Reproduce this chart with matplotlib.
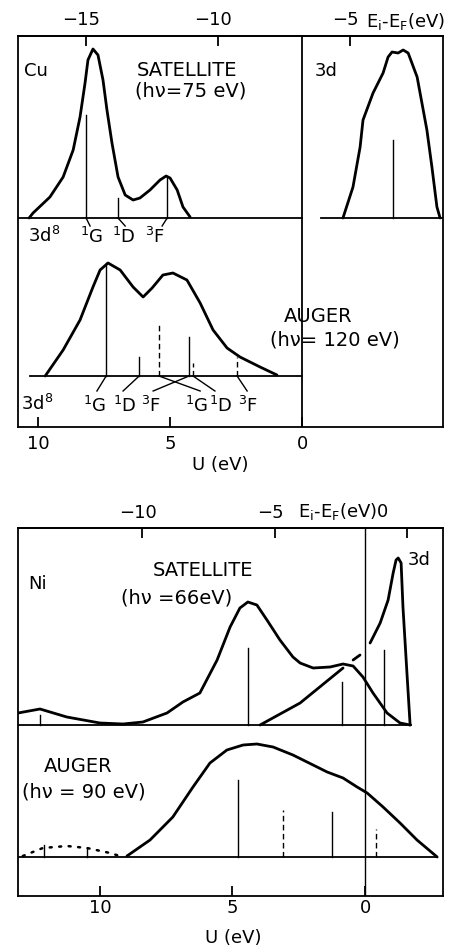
import matplotlib
matplotlib.use("Agg")
import matplotlib.pyplot as plt
from matplotlib.transforms import ScaledTranslation

# ---- Cu (top panel), x in U (eV), y = intensity above each baseline (arb.)
cu_sat_u = [10.34, 10.19, 9.55, 9.05, 8.67, 8.41, 8.22, 8.11, 7.92, 7.73, 7.54, 7.39,
            7.20, 6.97, 6.70, 6.40, 6.14, 5.76, 5.38, 5.15, 5.00, 4.73, 4.51, 4.24]
cu_sat_i = [0, 5, 21, 41, 68, 101, 135, 158, 169, 163, 138, 108,
            75, 41, 23, 18, 20, 28, 38, 42, 40, 28, 11, 1]
cu_sat_stick_u = [8.18, 6.97, 5.11]
cu_sat_stick_i = [103, 20, 41]
cu_sat_labels = [r"$^{1}$G", r"$^{1}$D", r"$^{3}$F"]

cu_3d_u = [-1.55, -1.93, -2.20, -2.31, -2.69, -3.07, -3.26, -3.41, -3.64, -3.83,
           -4.02, -4.36, -4.73, -4.92, -5.11, -5.23]
cu_3d_i = [0, 31, 71, 98, 125, 145, 161, 166, 165, 168, 165, 141, 88, 51, 11, 0]
cu_3d_stick_u = [-3.45]
cu_3d_stick_i = [78]

cu_aug_u = [9.73, 9.05, 8.41, 7.92, 7.65, 7.35, 6.89, 6.40, 6.02, 5.68, 5.27, 4.89,
            4.36, 3.86, 3.37, 2.84, 2.35, 1.59, 0.95]
cu_aug_i = [0, 26, 56, 89, 106, 113, 106, 89, 79, 88, 101, 103,
            96, 73, 46, 28, 19, 9, 1]
cu_aug_stick_u = [7.42, 6.17, 5.42, 4.28, 4.13, 2.46]
cu_aug_stick_i = [113, 19, 54, 39, 13, 19]
cu_aug_stick_dashed = [False, False, True, False, True, True]
cu_aug_labels = [r"$^{1}$G", r"$^{1}$D", r"$^{3}$F", r"$^{1}$G", r"$^{1}$D", r"$^{3}$F"]

# ---- Ni (bottom panel)
ni_sat_u = [13.09, 12.26, 11.25, 10.0, 9.13, 8.38, 7.47, 6.87, 6.23, 5.58, 5.09, 4.72,
            4.42, 4.08, 3.70, 3.21, 2.72, 2.45, 1.96, 1.32, 0.83, 0.45, 0.08, -0.30,
            -0.83, -1.32, -1.70]
ni_sat_i = [12, 16, 8, 2, 1, 3, 12, 23, 32, 65, 98, 117,
            123, 120, 105, 85, 68, 62, 57, 58, 61, 59, 48, 32,
            12, 2, 0]
ni_sat_stick_u = [12.26, 4.42, 0.87, -0.72]
ni_sat_stick_i = [10, 77, 43, 75]

ni_3d_u = [3.96, 2.45, 0.83]
ni_3d_i = [0, 22, 57]
ni_3d_gap_u = [0.45, 0.19]
ni_3d_gap_i = [65, 70]
ni_3d_peak_u = [-0.19, -0.57, -0.87, -1.06, -1.17, -1.25, -1.36, -1.43, -1.58, -1.70]
ni_3d_peak_i = [82, 102, 125, 152, 165, 167, 162, 118, 52, 0]

ni_aug_u = [8.98, 8.11, 7.25, 6.49, 5.85, 5.21, 4.60, 4.08, 3.47, 2.72, 1.96, 1.43,
            0.83, 0.30, -0.08, -0.68, -1.32, -1.96, -2.72]
ni_aug_i = [1, 17, 40, 70, 94, 107, 112, 113, 110, 102, 92, 85,
            79, 70, 64, 50, 34, 17, 0]
ni_aug_dot_u = [12.91, 12.15, 11.25, 10.49, 9.62, 9.13]
ni_aug_dot_i = [1, 9, 11, 9, 4, 0]
ni_aug_cross_u = [12.11, 10.49]
ni_aug_cross_i = [12, 9]
ni_aug_stick_u = [4.79, 3.09, 1.25, -0.42]
ni_aug_stick_i = [77, 47, 45, 28]
ni_aug_stick_dashed = [False, True, False, True]

W, H = 470, 949
fig = plt.figure(figsize=(W / 100, H / 100), dpi=100)
FS = 14
LW = 2.0


def box(l, t, r, b):
    return [l / W, 1 - b / H, (r - l) / W, (b - t) / H]


def ftxt(x, y, s, **kw):
    kw.setdefault("ha", "center")
    kw.setdefault("va", "center")
    kw.setdefault("fontsize", FS)
    fig.text(x / W, 1 - y / H, s, **kw)


def style_axes(ax, pad):
    for sp in ax.spines.values():
        sp.set_linewidth(1.3)
    ax.tick_params(axis="x", direction="in", length=7, width=1.3, labelsize=13, pad=pad)
    ax.set_yticks([])


def curve(ax, us, hs, base, **kw):
    ax.plot(us, [base + v for v in hs], color="black", lw=kw.pop("lw", LW),
            solid_joinstyle="round", solid_capstyle="round", **kw)


def sticks(ax, us, hs, base, dashed=None):
    for k, (u, h) in enumerate(zip(us, hs)):
        ls = (0, (4, 2.5)) if dashed and dashed[k] else "-"
        ax.plot([u, u], [base, base + h], color="black", lw=1.0, ls=ls)


def shift_labels(ax, dx):
    for lab in ax.get_xticklabels():
        lab.set_transform(lab.get_transform() + ScaledTranslation(dx / 72, 0, fig.dpi_scale_trans))


# ================= Cu panel =================
ax1 = fig.add_axes(box(18, 36, 443, 427))
ax1.set_xlim(10.76, -5.34)
ax1.set_ylim(0, 391)
style_axes(ax1, 6)
ax1.set_xticks([10, 5, 0])
ax1.set_xticklabels(["10", "5", "0"])
sec1 = ax1.secondary_xaxis("top", functions=(lambda u: -u - 6.8, lambda e: -e - 6.8))
sec1.set_xticks([-15, -10, -5])
sec1.set_xticklabels(["\u221215", "\u221210", "\u22125"])
sec1.tick_params(direction="in", length=7, width=1.3, labelsize=13, pad=5)
sec1.spines["top"].set_linewidth(1.3)
shift_labels(sec1, -3)

SAT, AUG = 209, 51
ax1.axvline(0, color="black", lw=1.3)
ax1.plot([10.76, 0], [SAT, SAT], color="black", lw=1.3)
ax1.plot([-0.72, -5.34], [SAT, SAT], color="black", lw=1.3)
ax1.plot([10.3, 0], [AUG, AUG], color="black", lw=1.3)

curve(ax1, cu_sat_u, cu_sat_i, SAT)
sticks(ax1, cu_sat_stick_u, cu_sat_stick_i, SAT)
curve(ax1, cu_3d_u, cu_3d_i, SAT)
sticks(ax1, cu_3d_stick_u, cu_3d_stick_i, SAT)
curve(ax1, cu_aug_u, cu_aug_i, AUG)
sticks(ax1, cu_aug_stick_u, cu_aug_stick_i, AUG, cu_aug_stick_dashed)

# connector ticks from lines to term labels
sat_ends = [8.03, 6.70, 5.30]
for u0, u1 in zip(cu_sat_stick_u, sat_ends):
    ax1.plot([u0, u1], [SAT, SAT - 8], color="black", lw=1.0)
aug_ends = [7.77, 6.78, 3.86, 5.64, 3.30, 2.08]
for u0, u1 in zip(cu_aug_stick_u, aug_ends):
    ax1.plot([u0, u1], [AUG, AUG - 15], color="black", lw=1.0)

ftxt(44, 236, r"3d$^{8}$", fontsize=13)
for x, s in zip([92, 124, 155], cu_sat_labels):
    ftxt(x, 237, s, fontsize=13)
ftxt(37, 404, r"3d$^{8}$", fontsize=13)
for x, s in zip([95, 125, 151, 197, 221, 248], cu_aug_labels):
    ftxt(x, 406, s, fontsize=13)

ftxt(24, 71, "Cu", ha="left", fontsize=13)
ftxt(187, 70, "SATELLITE")
ftxt(191, 91, "(h\u03bd=75 eV)")
ftxt(315, 71, "3d", ha="left", fontsize=13)
ftxt(318, 317, "AUGER")
ftxt(335, 340, "(h\u03bd= 120 eV)")
ftxt(366, 21, r"E$_{\mathrm{i}}$-E$_{\mathrm{F}}$(eV)", ha="left", fontsize=13)
ftxt(220, 465, "U (eV)", fontsize=13)

# ================= Ni panel =================
ax2 = fig.add_axes(box(18, 528, 443, 896))
ax2.set_xlim(13.09, -2.94)
ax2.set_ylim(0, 368)
style_axes(ax2, 2)
ax2.set_xticks([10, 5, 0])
ax2.set_xticklabels(["10", "5", "0"])
sec2 = ax2.secondary_xaxis("top", functions=(lambda u: -u - 1.6, lambda e: -e - 1.6))
sec2.set_xticks([-10, -5, 0])
sec2.set_xticklabels(["\u221210", "\u22125", ""])
sec2.tick_params(direction="in", length=7, width=1.3, labelsize=13, pad=4)
sec2.spines["top"].set_linewidth(1.3)
shift_labels(sec2, -3)

NSAT, NAUG = 171, 39
ax2.axvline(0, color="black", lw=1.0)
ax2.plot([13.09, -1.74], [NSAT, NSAT], color="black", lw=1.3)
ax2.plot([13.09, -2.72], [NAUG, NAUG], color="black", lw=1.3)

curve(ax2, ni_sat_u, ni_sat_i, NSAT)
sticks(ax2, ni_sat_stick_u, ni_sat_stick_i, NSAT)
curve(ax2, ni_3d_u, ni_3d_i, NSAT)
curve(ax2, ni_3d_gap_u, ni_3d_gap_i, NSAT)
curve(ax2, ni_3d_peak_u, ni_3d_peak_i, NSAT)

curve(ax2, ni_aug_u, ni_aug_i, NAUG)
ax2.plot(ni_aug_dot_u, [NAUG + v for v in ni_aug_dot_i], color="black", lw=1.8,
         ls=(0, (0.8, 3)), dash_capstyle="round")
for u, h in zip(ni_aug_cross_u, ni_aug_cross_i):
    ax2.plot([u, u], [NAUG, NAUG + h], color="black", lw=1.0)
sticks(ax2, ni_aug_stick_u, ni_aug_stick_i, NAUG, ni_aug_stick_dashed)

ftxt(28, 584, "Ni", ha="left", fontsize=13)
ftxt(203, 571, "SATELLITE")
ftxt(177, 598, "(h\u03bd =66eV)")
ftxt(408, 560, "3d", ha="left", fontsize=13)
ftxt(78, 767, "AUGER")
ftxt(84, 792, "(h\u03bd = 90 eV)")
ftxt(298, 512, r"E$_{\mathrm{i}}$-E$_{\mathrm{F}}$(eV)0", ha="left", fontsize=13)
ftxt(233, 938, "U (eV)", fontsize=13)

fig.savefig("out.png", dpi=100)
